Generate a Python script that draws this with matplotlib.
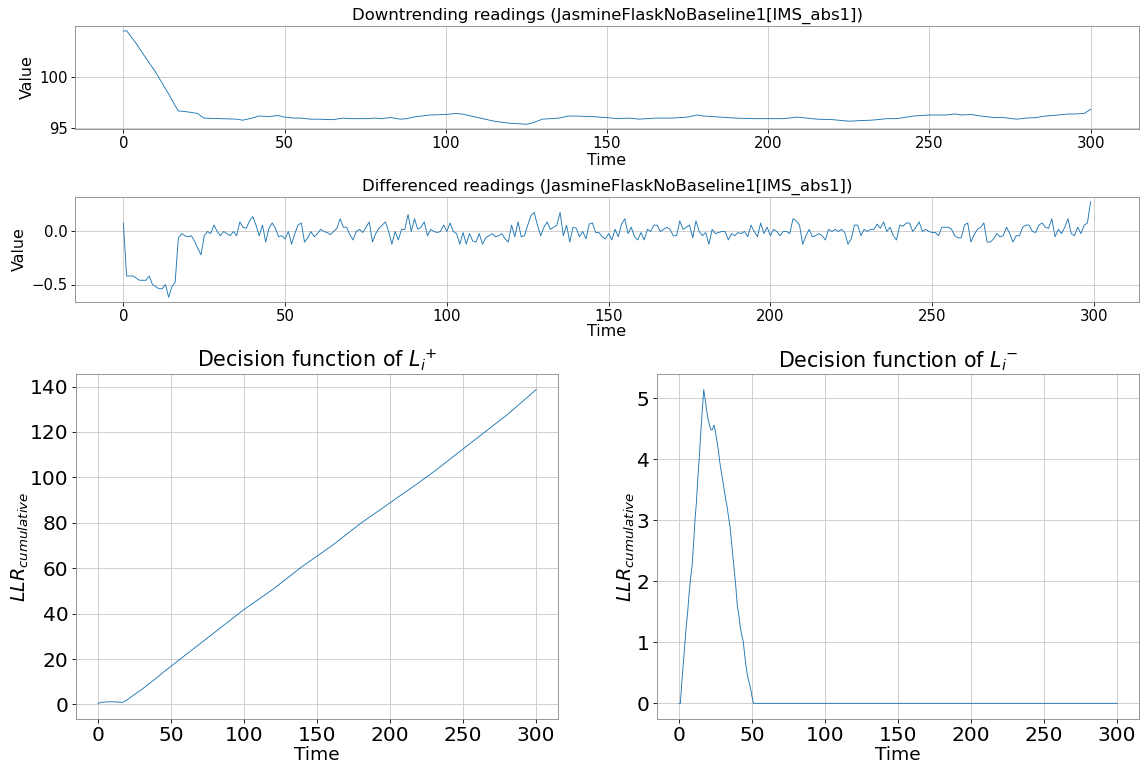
import matplotlib
import matplotlib.pyplot as plt
from matplotlib.ticker import MultipleLocator

matplotlib.use("Agg")

SENSOR = "JasmineFlaskNoBaseline1[IMS_abs1]"

# raw readings, sampled along the curve
trend_time = [0, 1, 4, 7, 10, 14, 17, 20, 23, 25, 30, 35, 37, 40, 42, 45, 48, 50, 53, 55,
              58, 60, 65, 68, 70, 75, 78, 80, 83, 86, 88, 90, 95, 100, 103, 105, 110, 115,
              120, 123, 125, 127, 130, 135, 138, 140, 145, 150, 153, 157, 160, 165, 170,
              175, 178, 180, 185, 190, 195, 200, 205, 209, 212, 215, 220, 225, 228, 232,
              237, 240, 245, 250, 255, 258, 260, 263, 266, 270, 273, 277, 280, 283, 286,
              290, 293, 295, 298, 300]
trend_value = [104.4, 104.45, 103.2, 101.8, 100.45, 98.35, 96.7, 96.6, 96.45, 96.0, 95.95,
               95.9, 95.8, 96.0, 96.2, 96.15, 96.25, 96.1, 96.0, 96.0, 95.9, 95.9, 95.85,
               96.0, 95.95, 95.95, 96.0, 95.95, 96.05, 95.9, 95.95, 96.1, 96.3, 96.35, 96.45,
               96.4, 96.05, 95.7, 95.5, 95.45, 95.4, 95.55, 95.9, 96.0, 96.2, 96.2, 96.15,
               96.05, 95.95, 96.0, 95.9, 96.0, 96.0, 96.1, 96.3, 96.2, 96.1, 96.0, 95.95,
               95.95, 95.95, 96.1, 96.0, 95.9, 95.85, 95.7, 95.75, 95.8, 95.95, 95.95, 96.2,
               96.3, 96.3, 96.4, 96.3, 96.35, 96.2, 96.05, 96.05, 95.9, 96.0, 96.05, 96.2,
               96.3, 96.4, 96.4, 96.45, 96.85]

# first differences, t = 0..299
diff_value = [
    0.08, -0.42, -0.42, -0.42, -0.44, -0.46, -0.46, -0.46, -0.42, -0.50,
    -0.52, -0.54, -0.54, -0.50, -0.62, -0.52, -0.48, -0.06, -0.02, -0.04,
    -0.05, -0.04, -0.09, -0.16, -0.22, -0.04, 0.00, -0.02, 0.06, 0.00,
    -0.04, 0.00, -0.02, -0.04, 0.00, -0.04, 0.09, 0.04, 0.03, 0.10,
    0.14, 0.06, -0.04, 0.06, -0.10, 0.03, 0.08, 0.03, -0.05, -0.04,
    -0.07, 0.00, -0.12, -0.02, 0.06, 0.08, -0.10, -0.06, 0.00, -0.05,
    -0.02, 0.02, 0.00, -0.01, -0.03, 0.00, 0.03, 0.12, 0.04, 0.04,
    -0.03, -0.08, 0.00, 0.02, -0.01, 0.04, 0.09, -0.10, -0.02, 0.03,
    0.06, 0.09, 0.00, -0.12, 0.00, -0.08, 0.02, 0.02, 0.16, 0.00,
    0.12, 0.02, 0.04, 0.09, -0.04, 0.02, 0.00, -0.01, 0.00, 0.06,
    0.00, 0.08, 0.00, -0.02, -0.12, -0.01, -0.12, -0.02, -0.09, -0.10,
    -0.02, -0.12, -0.06, -0.04, -0.02, -0.05, -0.04, -0.02, -0.07, -0.10,
    0.06, -0.05, 0.09, -0.05, -0.04, 0.06, 0.15, 0.18, 0.06, -0.04,
    0.04, 0.09, 0.02, 0.04, 0.06, 0.18, -0.04, 0.06, -0.10, 0.04,
    0.03, -0.05, 0.00, -0.07, 0.07, 0.08, -0.01, -0.01, -0.05, -0.07,
    -0.02, -0.08, 0.02, -0.05, 0.07, 0.12, -0.02, 0.04, -0.05, -0.08,
    -0.01, -0.08, 0.02, 0.00, 0.06, 0.06, 0.00, 0.02, 0.04, 0.02,
    -0.04, -0.04, 0.10, 0.02, 0.04, 0.06, -0.06, 0.10, 0.00, -0.04,
    -0.01, -0.12, 0.02, -0.02, -0.01, 0.00, 0.00, -0.08, -0.02, -0.04,
    -0.01, -0.02, 0.00, -0.05, 0.06, 0.00, -0.05, 0.08, -0.02, 0.04,
    -0.04, 0.02, 0.00, -0.04, 0.00, 0.00, -0.02, 0.12, 0.10, 0.06,
    -0.12, -0.04, 0.02, -0.05, -0.04, -0.02, -0.04, -0.08, 0.02, 0.00,
    0.02, 0.00, 0.02, -0.01, -0.12, -0.07, 0.06, 0.06, -0.04, 0.02,
    0.00, 0.02, 0.02, 0.07, 0.03, 0.09, 0.00, 0.04, -0.04, -0.08,
    0.06, 0.05, 0.08, 0.08, 0.00, 0.04, 0.09, 0.00, 0.02, 0.00,
    -0.01, -0.01, -0.04, 0.04, 0.04, 0.04, 0.02, -0.04, -0.06, -0.06,
    0.06, 0.08, -0.10, -0.03, 0.02, 0.04, 0.08, -0.10, -0.10, -0.07,
    -0.02, -0.05, -0.04, 0.04, -0.02, -0.10, -0.04, -0.04, 0.04, 0.06,
    0.06, 0.00, -0.01, 0.06, 0.08, 0.04, 0.03, 0.12, -0.05, 0.02,
    -0.02, 0.04, 0.12, -0.02, -0.04, 0.04, -0.02, 0.06, 0.08, 0.28,
]
diff_time = list(range(len(diff_value)))

# cumulative LLR, upward hypothesis
lplus_time = [0, 3, 10, 17, 20, 25, 30, 35, 40, 45, 50, 55, 60, 70, 80, 90, 100, 110, 120,
              130, 140, 150, 160, 170, 180, 190, 200, 210, 220, 230, 240, 250, 260, 270,
              280, 290, 300]
lplus_value = [0.5, 1.0, 1.2, 0.9, 2.0, 4.4, 6.6, 9.1, 11.6, 14.3, 16.8, 19.3, 21.8, 26.8,
               31.8, 36.8, 41.8, 46.3, 50.8, 55.8, 60.8, 65.3, 69.8, 74.8, 79.8, 84.3, 88.8,
               93.3, 97.8, 102.5, 107.5, 112.5, 117.5, 122.5, 127.5, 133.0, 138.6]

# cumulative LLR, downward hypothesis (zero after t = 51)
lminus_time = list(range(52)) + [300]
lminus_value = [0.0, 0.0, 0.35, 0.65, 0.95, 1.25, 1.5, 1.8, 2.05, 2.25,
                2.6, 3.0, 3.3, 3.7, 4.05, 4.45, 4.8, 5.14, 4.97, 4.8,
                4.65, 4.55, 4.48, 4.49, 4.56, 4.45, 4.3, 4.15, 3.95, 3.8,
                3.65, 3.5, 3.35, 3.22, 3.05, 2.9, 2.65, 2.4, 2.15, 1.9,
                1.6, 1.45, 1.25, 1.12, 1.02, 0.8, 0.6, 0.45, 0.35, 0.25,
                0.12, 0.0, 0.0]

W, H = 1146, 767
DPI = 76.4


def _axes(fig, left, top, right, bottom):
    return fig.add_axes([left / W, 1 - bottom / H, (right - left) / W, (bottom - top) / H])


def _style(ax, size):
    ax.grid(True, color="#c8c8c8", linewidth=0.8)
    ax.set_axisbelow(True)
    ax.tick_params(labelsize=size)
    for spine in ax.spines.values():
        spine.set_color("#888888")


fig = plt.figure(figsize=(W / DPI, H / DPI), dpi=DPI)

ax = _axes(fig, 75, 26, 1139, 129)
ax.plot(trend_time, trend_value, color="C0", linewidth=0.85)
ax.set_title(f"Downtrending readings ({SENSOR})", fontsize=15.5)
ax.set_xlabel("Time", fontsize=15, labelpad=1.5)
ax.set_ylabel("Value", fontsize=15)
ax.yaxis.set_major_locator(MultipleLocator(5))
_style(ax, 14)

ax = _axes(fig, 75, 197, 1139, 302)
ax.plot(diff_time, diff_value, color="C0", linewidth=0.85)
ax.set_title(f"Differenced readings ({SENSOR})", fontsize=15.5)
ax.set_xlabel("Time", fontsize=15, labelpad=0)
ax.set_ylabel("Value", fontsize=15)
_style(ax, 14)

ax = _axes(fig, 76, 374, 558, 719)
ax.plot(lplus_time, lplus_value, color="C0", linewidth=0.85)
ax.set_title(r"Decision function of $L_i$$^{+}$", fontsize=19.5)
ax.set_xlabel("Time", fontsize=17.5, labelpad=1)
ax.set_ylabel(r"$LLR_{cumulative}$", fontsize=18, labelpad=-1)
_style(ax, 19)

ax = _axes(fig, 657, 374, 1139, 719)
ax.plot(lminus_time, lminus_value, color="C0", linewidth=0.85)
ax.set_title(r"Decision function of $L_i$$^{-}$", fontsize=19.5)
ax.set_xlabel("Time", fontsize=17.5, labelpad=1)
ax.set_ylabel(r"$LLR_{cumulative}$", fontsize=18, labelpad=0)
_style(ax, 19)

fig.savefig("out.png", dpi=DPI, facecolor="white")
